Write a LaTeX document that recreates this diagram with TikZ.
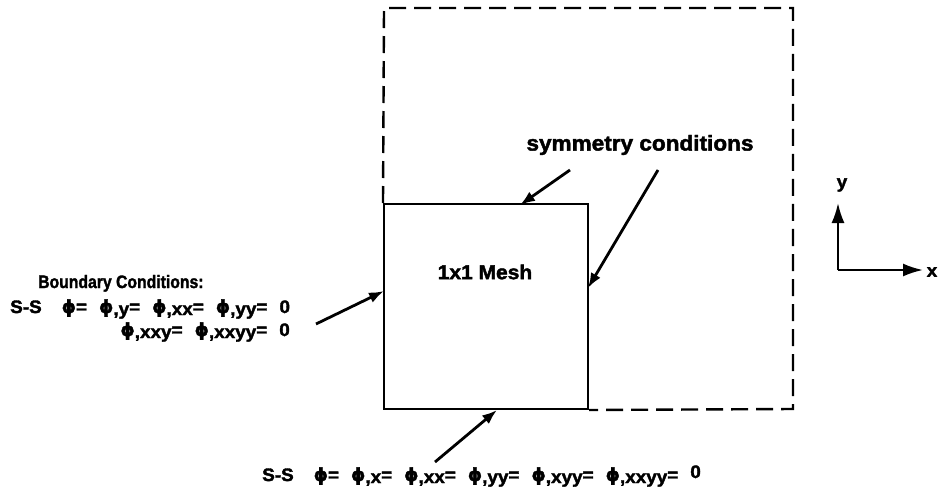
\documentclass[tikz,border=0pt]{standalone}
\usepackage{fontspec}
\setmainfont{Liberation Sans}[FakeStretch=1.05, BoldFeatures={FakeBold=2}]
\newfontfamily\phif{DejaVu Sans}[BoldFeatures={FakeBold=2}]
\usetikzlibrary{arrows.meta}
\newcommand\ph{{\phif ϕ}}
\newcommand\sbx[1]{\raisebox{-2pt}{#1}}
\newcommand\gp{\hspace{12pt}}
\begin{document}
\begin{tikzpicture}[x=1pt,y=-1pt,
  font=\fontsize{18}{21}\selectfont\bfseries,
  arr/.style={line width=2.8pt,-{Latex[length=15pt,width=11pt]}},
  ax/.style={line width=2.2pt,-{Latex[length=20pt,width=13pt]}},
  dashbox/.style={line width=2.4pt,dash pattern=on 17pt off 8pt},
  lbl/.style={inner sep=0pt}]
\useasboundingbox (0,0) rectangle (938,498);
\node[draw, line width=2pt, minimum width=204pt, minimum height=205pt, inner sep=0pt] (mesh) at (486,306.5) {};
\node[lbl, font=\fontsize{20}{24}\selectfont\bfseries] (meshlbl) at (485,272) {1x1 Mesh};
\coordinate (d1) at (384,8);
\coordinate (d2) at (793,8);
\coordinate (d3) at (793,409);
\draw[dashbox] (mesh.north west) -- (d1) -- (d2) -- (d3) -- (mesh.south east);
% labels
\node[lbl, font=\fontsize{21.5}{25}\selectfont\bfseries] (sym) at (640,145) {symmetry conditions};
\node[lbl, anchor=base west, font=\fontsize{15}{18}\selectfont\bfseries] (bc) at (38,288) {\scalebox{1}[1.2]{Boundary Conditions:}};
\node[lbl, anchor=base west] (l1) at (10,313) {S-S\hspace{20pt}\ph=\gp\ph\sbx{,y}=\gp\ph\sbx{,xx}=\gp\ph\sbx{,yy}=\gp0};
\node[lbl, anchor=base east] (l2) at (290,336) {\ph\sbx{,xxy}=\gp\ph\sbx{,xxyy}=\gp0};
\node[lbl, anchor=base west] (l3) at (262,481) {S-S\hspace{20pt}\ph=\gp\ph\sbx{,x}=\gp\ph\sbx{,xx}=\gp\ph\sbx{,yy}=\gp\ph\sbx{,xyy}=\gp\ph\sbx{,xxyy}=\gp\raisebox{3pt}{0}};
% arrows
\coordinate (lt) at (316,324); \coordinate (lh) at (384,291);
\coordinate (bt) at (435,462); \coordinate (bh) at (497,410);
\coordinate (tt) at (570,170); \coordinate (th) at (520,205);
\coordinate (rt) at (658,170); \coordinate (rh) at (588,288);
\draw[arr] (lt) -- (lh);
\draw[arr] (bt) -- (bh);
\draw[arr] (tt) -- (th);
\draw[arr] (rt) -- (rh);
% axes
\coordinate (o) at (838,270);
\coordinate (yt) at (838,203);
\coordinate (xt) at (923,270);
\draw[ax] (o) -- (yt);
\draw[ax] (o) -- (xt);
\node[lbl] (ylbl) at (842,185) {y};
\node[lbl] (xlbl) at (932,272) {x};
\end{tikzpicture}
\end{document}
